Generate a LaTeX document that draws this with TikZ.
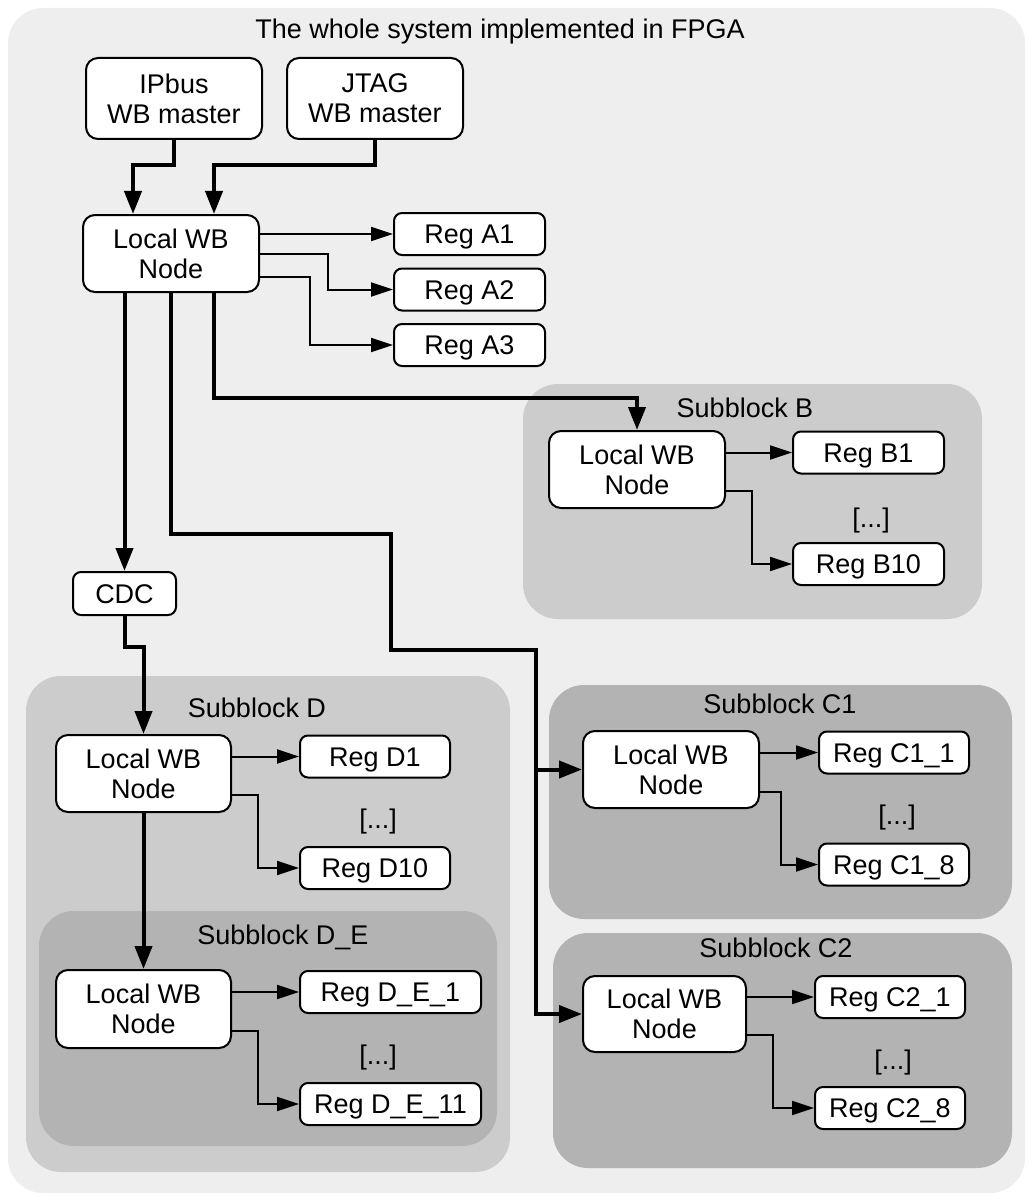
\documentclass[tikz,border=0pt]{standalone}
\usepackage{fontspec}
\setmainfont{Liberation Sans}
\usetikzlibrary{arrows.meta,positioning}
\definecolor{outerbg}{HTML}{EEEEEE}
\definecolor{midbg}{HTML}{CCCCCC}
\definecolor{darkbg}{HTML}{B3B3B3}
\tikzset{bus/.style={line width=4pt,-{Triangle[length=23pt,width=17pt]}}}
\tikzset{wire/.style={line width=2pt,-{Triangle[length=22pt,width=14pt]}}}
\tikzset{wbnode/.style={draw,line width=2pt,fill=white,rounded corners=12pt,minimum width=176pt,minimum height=77pt,align=center,inner sep=0pt}}
\tikzset{reg/.style={draw,line width=2pt,fill=white,rounded corners=8pt,minimum width=151pt,minimum height=42pt,inner sep=0pt,text height=19pt,text depth=0pt}}
\tikzset{caption/.style={inner sep=0pt,text height=19pt,text depth=0pt}}
\tikzset{block/.style={rounded corners=35pt}}

\begin{document}
\begin{tikzpicture}[x=1pt,y=-1pt,font=\fontsize{27}{30}\selectfont]
        \useasboundingbox (0,0) rectangle (1034,1201);
        % subblock backgrounds
        \fill[outerbg,block] (8,8) rectangle (1025,1193);
        \fill[midbg,block] (523,384) rectangle (982,619);
        \fill[midbg,block] (26,676) rectangle (510,1172);
        \fill[darkbg,block] (39,911) rectangle (497,1146);
        \fill[darkbg,block] (549,685) rectangle (1012,919);
        \fill[darkbg,block] (553,933) rectangle (1012,1168);
        \node(title)[caption] at (500,29){The whole system implemented in FPGA};
        \node(titleB)[caption] at (745,408){Subblock B};
        \node(titleD)[caption] at (257,708){Subblock D};
        \node(titleDE)[caption] at (283,935){Subblock D\_E};
        \node(titleCa)[caption] at (780,704){Subblock C1};
        \node(titleCb)[caption] at (776,948){Subblock C2};
        % masters and top node
        \node(ipbus)[wbnode,minimum height=81pt] at (174,98.5){IPbus\\WB master};
        \node(jtag)[wbnode,minimum height=81pt] at (375,98.5){JTAG\\WB master};
        \node(nodeA)[wbnode] at (171,253.5){Local WB\\Node};
        \node(regAa)[reg] at (469.5,234){Reg A1};
        \node(regAb)[reg,below=11.5pt of regAa]{Reg A2};
        \node(regAc)[reg,below=11.5pt of regAb]{Reg A3};
        \node(cdc)[reg,minimum width=103pt,minimum height=43pt] at (124.5,593.5){CDC};
        % subblock B
        \node(nodeB)[wbnode] at (637,469.5){Local WB\\Node};
        \node(regBa)[reg] at (868.5,452.5){Reg B1};
        \node(dotsB)[caption] at (871,518){[...]};
        \node(regBb)[reg] at (868.5,564){Reg B10};
        % subblock D and D_E
        \node(nodeD)[wbnode,minimum width=175pt] at (143.5,773.5){Local WB\\Node};
        \node(regDa)[reg,minimum width=150pt] at (375,756.5){Reg D1};
        \node(dotsD)[caption] at (378,819){[...]};
        \node(regDb)[reg,minimum width=150pt] at (375,868){Reg D10};
        \node(nodeDE)[wbnode,minimum width=175pt,minimum height=78pt] at (143.5,1009){Local WB\\Node};
        \node(regDEa)[reg,minimum width=181pt] at (390.5,992){Reg D\_E\_1};
        \node(dotsDE)[caption] at (378,1055){[...]};
        \node(regDEb)[reg,minimum width=181pt] at (390.5,1104){Reg D\_E\_11};
        % subblocks C1 and C2
        \node(nodeCa)[wbnode] at (671,769.5){Local WB\\Node};
        \node(regCaa)[reg,minimum width=150pt] at (894,752.5){Reg C1\_1};
        \node(dotsCa)[caption] at (897,815){[...]};
        \node(regCab)[reg,minimum width=150pt] at (894,864.5){Reg C1\_8};
        \node(nodeCb)[wbnode,minimum width=163pt,minimum height=76pt] at (664.5,1014){Local WB\\Node};
        \node(regCba)[reg,minimum width=150pt] at (890,997){Reg C2\_1};
        \node(dotsCb)[caption] at (893,1060){[...]};
        \node(regCbb)[reg,minimum width=150pt] at (890,1108){Reg C2\_8};
        % bus connections
        \draw[bus] (ipbus.south) -- ++(0,25) -| ([xshift=-38pt]nodeA.north);
        \draw[bus] (jtag.south) -- ++(0,25) -| ([xshift=43pt]nodeA.north);
        \draw[bus] (cdc.north |- nodeA.south) -- (cdc.north);
        \draw[bus] ([xshift=43pt]nodeA.south) -- ++(0,105) -| (nodeB.north);
        \draw[bus] (nodeA.south) -- ++(0,241) -| ++(220,116) -- ++(145,0) coordinate(cjoin) |- (nodeCb.west);
        \draw[bus] (nodeCa.west -| cjoin) -- (nodeCa.west);
        \draw[bus] (cdc.south) -- ++(0,31) -| (nodeD.north);
        \draw[bus] (nodeD.south) -- (nodeDE.north);
        % register connections
        \draw[wire] (regAa.west -| nodeA.east) -- (regAa.west);
        \draw[wire] (nodeA.east) -- ++(68,0) |- (regAb.west);
        \draw[wire] ([yshift=-23pt]nodeA.east) -- ++(50,0) |- (regAc.west);
        \draw[wire] (regBa.west -| nodeB.east) -- (regBa.west);
        \draw[wire] ([yshift=-21.5pt]nodeB.east) -- ++(26,0) |- (regBb.west);
        \draw[wire] (regDa.west -| nodeD.east) -- (regDa.west);
        \draw[wire] ([yshift=-21.5pt]nodeD.east) -- ++(26,0) |- (regDb.west);
        \draw[wire] (regDEa.west -| nodeDE.east) -- (regDEa.west);
        \draw[wire] ([yshift=-22pt]nodeDE.east) -- ++(26,0) |- (regDEb.west);
        \draw[wire] (regCaa.west -| nodeCa.east) -- (regCaa.west);
        \draw[wire] ([yshift=-22.5pt]nodeCa.east) -- ++(21,0) |- (regCab.west);
        \draw[wire] (regCba.west -| nodeCb.east) -- (regCba.west);
        \draw[wire] ([yshift=-21pt]nodeCb.east) -- ++(26,0) |- (regCbb.west);
      \end{tikzpicture}
\end{document}
